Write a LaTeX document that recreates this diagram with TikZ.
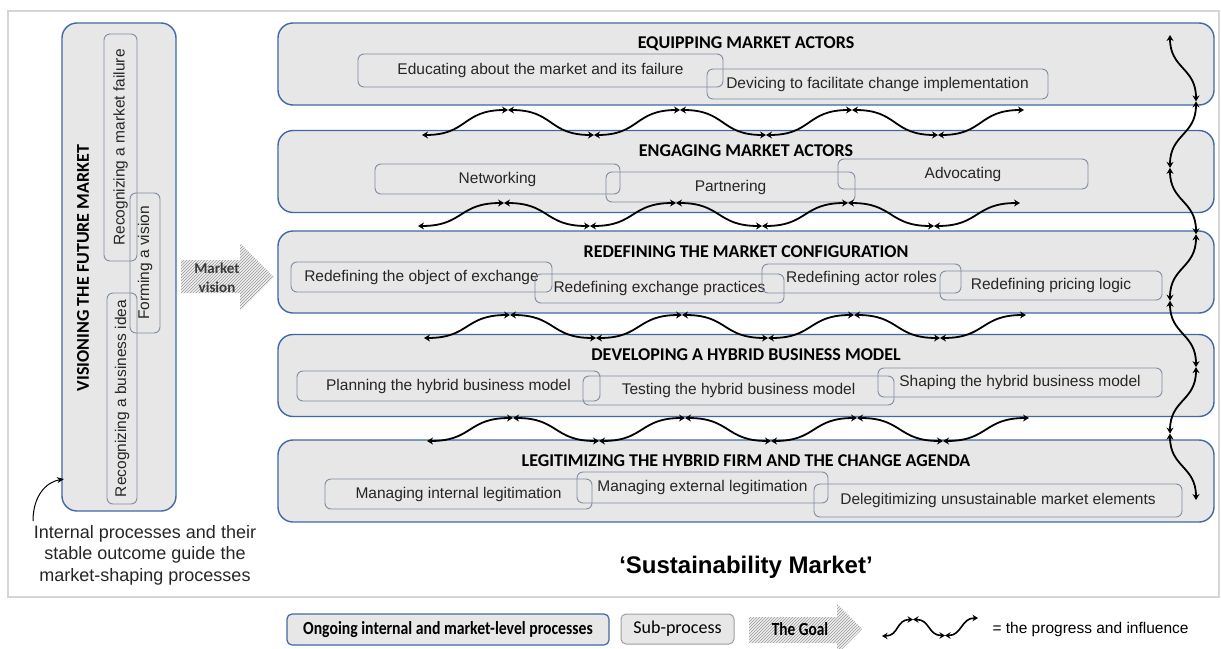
\documentclass[tikz,border=0pt]{standalone}
\usepackage{fontspec}
\usepackage{graphicx}
\setmainfont{Liberation Sans}
\newfontfamily\calibri{Carlito}
\usetikzlibrary{arrows.meta,calc,patterns}

\definecolor{boxfill}{HTML}{E7E7E7}
\definecolor{boxline}{HTML}{4068A6}
\definecolor{subline}{HTML}{7E8CA5}
\definecolor{framegray}{HTML}{D6D6D6}
\definecolor{darktext}{HTML}{3A3A3A}

\tikzset{
  stage/.style={draw=boxline, fill=boxfill, line width=1.4pt, rounded corners=15pt},
  stagetitle/.style={font=\calibri\bfseries\fontsize{18}{20}\selectfont},
  sub/.style={draw=subline, line width=0.9pt, rounded corners=6pt, minimum height=30, inner sep=0pt,
    text=black!85, font=\fontsize{15.5}{18}\selectfont},
  wave/.style={line width=1.8pt, {Stealth[length=6pt,width=7pt]}-{Stealth[length=6pt,width=7pt]}},
  wavesmall/.style={line width=1.6pt, {Stealth[length=5.5pt,width=6.5pt]}-{Stealth[length=5.5pt,width=6.5pt]}},
  goal/.style={preaction={fill=gray!12}, pattern=north east lines, pattern color=gray!80},
}

\begin{document}
\begin{tikzpicture}[x=1pt,y=-1pt]
  \useasboundingbox (0,0) rectangle (1221,648);
  % frame
  \draw[framegray, line width=1.8pt] (8,11) rectangle (1219,597);

  % internal processes
  \node[stage, minimum width=114, minimum height=488] (vis) at (119,267) {};
  \node[stagetitle, rotate=90] (vis-t) at (83,268) {VISIONING THE FUTURE MARKET};
  \node[sub, rotate=90, minimum width=227, minimum height=33] (vfail) at (120.5,147.5) {Recognizing a market failure};
  \node[sub, rotate=90, minimum width=140] (vform) at (145,263) {Forming a vision};
  \node[sub, rotate=90, minimum width=211] (videa) at (122,398.5) {Recognizing a business idea};

  % market vision arrow
  \path[goal] (181,260) -- (240,260) -- (240,243) -- (274,277) -- (240,311) -- (240,293) -- (181,293) -- cycle;
  \node[font=\calibri\bfseries\fontsize{15}{19}\selectfont, text=darktext, align=center] (mv) at (217,277.5) {Market\\vision};

  % market-level stages
  \foreach \n/\y/\ttl in {eqp/64/EQUIPPING MARKET ACTORS, eng/171.5/ENGAGING MARKET ACTORS,
      rdf/272/REDEFINING THE MARKET CONFIGURATION, dev/375.5/DEVELOPING A HYBRID BUSINESS MODEL,
      leg/481/LEGITIMIZING THE HYBRID FIRM AND THE CHANGE AGENDA}{
    \node[stage, minimum width=936, minimum height=82] (\n) at (746,\y) {};
    \node[stagetitle] (\n-t) at ($(\n.north)+(0,21)$) {\ttl};
  }

  % sub-processes
  \node[sub, minimum width=365, minimum height=33] (edu) at (540.5,70.5) {Educating about the market and its failure};
  \node[sub, minimum width=341] (dvc) at (877.5,84) {Devicing to facilitate change implementation};

  \node[sub, minimum width=245] (net) at (497.5,179) {Networking};
  \node[sub, minimum width=249] (prt) at (730.5,187) {Partnering};
  \node[sub, minimum width=250] (adv) at (963,174) {Advocating};

  \node[sub, minimum width=261] (obj) at (421.5,277) {Redefining the object of exchange};
  \node[sub, minimum width=249, minimum height=29] (xpr) at (659.5,288.5) {Redefining exchange practices};
  \node[sub, minimum width=199, minimum height=29] (rol) at (861.5,278.5) {Redefining actor roles};
  \node[sub, minimum width=222, minimum height=29] (prc) at (1051,285.5) {Redefining pricing logic};

  \node[sub, minimum width=303] (pln) at (448.5,386) {Planning the hybrid business model};
  \node[sub, minimum width=311, minimum height=29] (tst) at (738.5,390.5) {Testing the hybrid business model};
  \node[sub, minimum width=284, minimum height=29] (shp) at (1020,382.5) {Shaping the hybrid business model};

  \node[sub, minimum width=267] (mil) at (458.5,494) {Managing internal legitimation};
  \node[sub, minimum width=251, minimum height=31] (mel) at (702.5,487.5) {Managing external legitimation};
  \node[sub, minimum width=368, minimum height=33] (dlg) at (998,500.5) {Delegitimizing unsustainable market elements};

  % waves between the stages
  \foreach \g/\xs/\yt/\yp in {1/422/135/110, 2/418/226/203, 3/424/338/315, 4/427/441/418}{
    \foreach \i in {0,...,7}{
      \pgfmathsetmacro\yy{mod(\i,2)==1 ? \yp : \yt}
      \coordinate (w\g-\i) at (\xs+86*\i,\yy);
    }
    \foreach \i [count=\j] in {0,...,6}
      \draw[wave] (w\g-\i) .. controls +(46,0) and +(-46,0) .. (w\g-\j);
  }

  % wave down the right side
  \foreach \k in {0,...,7}{
    \pgfmathsetmacro\xx{mod(\k,2)==1 ? 1196 : 1170}
    \coordinate (v\k) at (\xx,35+66.43*\k);
  }
  \foreach \k [count=\m] in {0,...,6}
    \draw[wave] (v\k) .. controls +(0,34) and +(0,-34) .. (v\m);

  % note on the left
  \node[align=center, text=black!85, font=\fontsize{18}{21.5}\selectfont] (note) at (145,555)
    {Internal processes and their\\stable outcome guide the\\market-shaping processes};
  \coordinate (noteA) at (33,521);
  \coordinate (noteB) at (64,479);
  \draw[line width=1pt, -{Stealth[length=7pt,width=6pt]}] (noteA) .. controls +(0,-25) and +(-18,3) .. (noteB);

  \node[font=\bfseries\fontsize{24}{28}\selectfont] (mkt) at (746,567) {‘Sustainability Market’};

  % legend
  \node[stage, rounded corners=5pt, line width=1.2pt, minimum width=322, minimum height=31,
    font=\calibri\bfseries\fontsize{18.5}{20}\selectfont] (lgproc) at (448,629.5)
    {\scalebox{0.85}[1]{Ongoing internal and market-level processes}};
  \node[draw=gray!75, fill=boxfill, line width=1pt, rounded corners=5pt, minimum width=113, minimum height=30,
    font=\calibri\fontsize{18}{20}\selectfont] (lgsub) at (677.5,629) {Sub-process};
  \begin{scope}
    \clip (0,0) rectangle (1221,648);
    \path[goal] (749,617) -- (837,617) -- (837,604) -- (862,629) -- (837,654) -- (837,643) -- (749,643) -- cycle;
  \end{scope}
  \node[font=\calibri\bfseries\fontsize{18.5}{20}\selectfont] (lggoal) at (800,629.5) {\scalebox{0.83}[1]{The Goal}};
  \foreach \k/\px/\py in {0/882/636, 1/913/619.5, 2/945/635.5, 3/978/618}
    \coordinate (lw\k) at (\px,\py);
  \foreach \k [count=\m] in {0,1,2}
    \draw[wavesmall] (lw\k) .. controls +(17,0) and +(-17,0) .. (lw\m);
  \node[anchor=west, font=\fontsize{15.5}{18}\selectfont] (lgtxt) at (989,629) {= the progress and influence};
\end{tikzpicture}
\end{document}
